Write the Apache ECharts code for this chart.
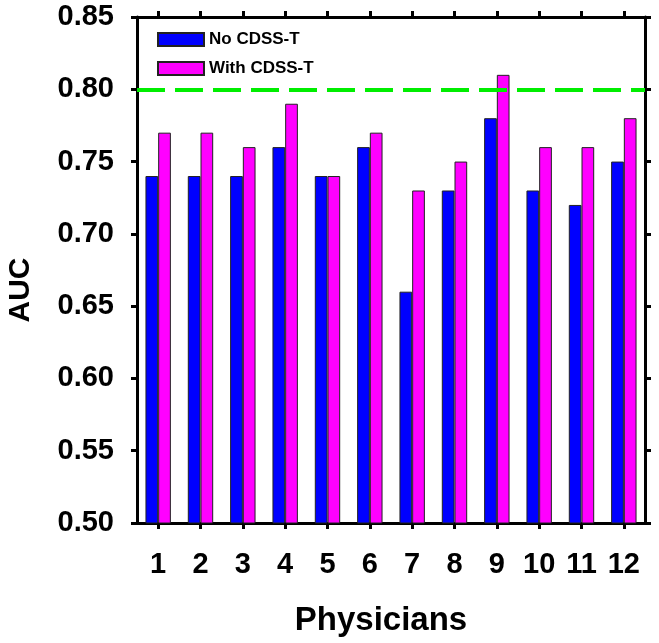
<!DOCTYPE html>
<html>
<head>
<meta charset="utf-8">
<script src="https://cdn.jsdelivr.net/npm/echarts@6/dist/echarts.min.js"></script>
<style>
html,body{margin:0;padding:0;background:#fff;}
#c{width:659px;height:643px;}
</style>
</head>
<body>
<div id="c"></div>
<script>
var categories = ['1','2','3','4','5','6','7','8','9','10','11','12'];
var noCdss = [0.74,0.74,0.74,0.76,0.74,0.76,0.66,0.73,0.78,0.73,0.72,0.75];
var withCdss = [0.77,0.77,0.76,0.79,0.74,0.77,0.73,0.75,0.81,0.76,0.76,0.78];
var refLine = 0.80;
var seriesNames = ['No CDSS-T','With CDSS-T'];

var FONT = '"Liberation Sans", Arial, sans-serif';
var chart = echarts.init(document.getElementById('c'), null, {renderer:'canvas'});
var axisLine = {show:true, lineStyle:{color:'#000', width:3}};
var tick = {show:true, length:6, inside:false, lineStyle:{color:'#000', width:3}};
chart.setOption({
  animation:false,
  backgroundColor:'#fff',
  grid:{left:137, right:14, top:17, bottom:120, containLabel:false},
  legend:{
    data:seriesNames, orient:'vertical', left:157, top:31, padding:0,
    itemWidth:46, itemHeight:13, itemGap:12, icon:'rect',
    textStyle:{fontFamily:FONT, fontWeight:'bold', fontSize:17, color:'#000'}
  },
  xAxis:[
    {type:'category', data:categories, position:'bottom',
     axisLine:axisLine, axisTick:Object.assign({alignWithLabel:true}, tick),
     axisLabel:{margin:27, fontFamily:FONT, fontWeight:'bold', fontSize:29, color:'#000'},
     splitLine:{show:false}},
    {type:'category', data:categories, position:'top',
     axisLine:axisLine, axisTick:Object.assign({alignWithLabel:true}, tick),
     axisLabel:{show:false}, splitLine:{show:false}}
  ],
  yAxis:[
    {type:'value', min:0.5, max:0.85, interval:0.05, position:'left',
     axisLine:axisLine, axisTick:tick,
     axisLabel:{margin:23, fontFamily:FONT, fontWeight:'bold', fontSize:29, color:'#000',
       formatter:function(v){return v.toFixed(2);}},
     splitLine:{show:false}},
    {type:'value', min:0.5, max:0.85, interval:0.05, position:'right',
     axisLine:axisLine, axisTick:tick, axisLabel:{show:false}, splitLine:{show:false}}
  ],
  graphic:[
    {type:'text', x:21, y:290, rotation:Math.PI/2,
     style:{text:'AUC', textAlign:'center', textVerticalAlign:'middle',
       font:'bold 30px ' + FONT, fill:'#000'}},
    {type:'text', x:381, y:621,
     style:{text:'Physicians', textAlign:'center', textVerticalAlign:'middle',
       font:'bold 33px ' + FONT, fill:'#000'}}
  ],
  series:[
    {name:seriesNames[0], type:'bar', data:noCdss, barWidth:'30%', barGap:'0%',
     itemStyle:{color:'#0000ff', borderColor:'#222', borderWidth:1},
     markLine:{silent:true, symbol:'none', label:{show:false},
       lineStyle:{color:'#00ee00', width:4, type:[28,10]},
       data:[{yAxis:refLine}]}},
    {name:seriesNames[1], type:'bar', data:withCdss, barWidth:'30%', barGap:'0%',
     itemStyle:{color:'#ff00ff', borderColor:'#222', borderWidth:1}}
  ]
});
</script>
</body>
</html>
